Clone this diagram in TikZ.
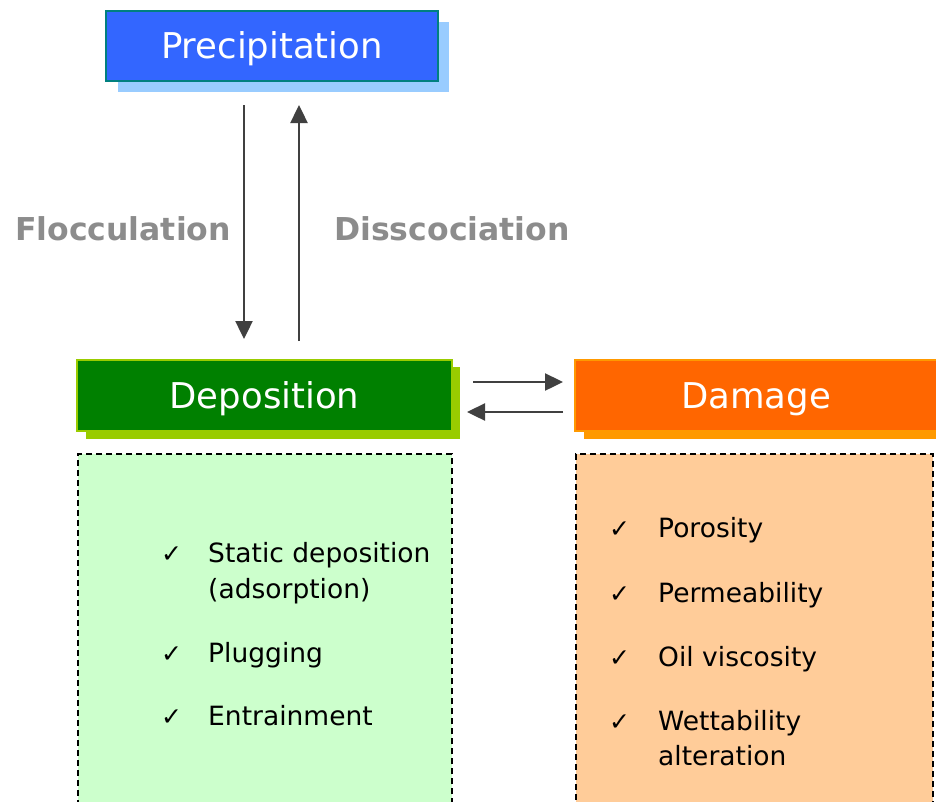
\documentclass[tikz,border=0pt]{standalone}
\usepackage{fontspec}
\setmainfont{DejaVu Sans}
\usetikzlibrary{arrows.meta}
\definecolor{precfill}{HTML}{3366FF}
\definecolor{precline}{HTML}{008080}
\definecolor{precshadow}{HTML}{99CCFF}
\definecolor{depfill}{HTML}{008000}
\definecolor{depline}{HTML}{99CC00}
\definecolor{damfill}{HTML}{FF6600}
\definecolor{damline}{HTML}{FF9900}
\definecolor{greenbg}{HTML}{CCFFCC}
\definecolor{orangebg}{HTML}{FFCC99}
\definecolor{arrowcol}{HTML}{404040}
\definecolor{labelgray}{HTML}{8C8C8C}
\begin{document}
\begin{tikzpicture}[x=1pt,y=-1pt,
  titlebox/.style={rectangle, line width=2pt, text=white, inner sep=0pt,
     font=\fontsize{35.5}{40}\selectfont, text height=25.5pt, text depth=0pt},
  shadowbox/.style={rectangle, inner sep=0pt, draw=none},
  listbox/.style={rectangle, draw=black, line width=1.5pt, dash pattern=on 6pt off 4pt, inner sep=0pt},
  flowarrow/.style={draw=arrowcol, line width=2.4pt, -{Triangle[length=18pt,width=17pt]}},
  sidelabel/.style={anchor=base, text=labelgray, font=\fontsize{31.5}{36}\bfseries\selectfont},
  tick/.style={anchor=base west, inner sep=0pt, font=\fontsize{25}{30}\bfseries\selectfont},
  item/.style={anchor=base west, inner sep=0pt, font=\fontsize{26.5}{36}\selectfont}]
\useasboundingbox (0,0) rectangle (936,801);

% shadows
\node[shadowbox, fill=precshadow, minimum width=331pt, minimum height=70pt] (precsh) at (283,57) {};
\node[shadowbox, fill=depline, minimum width=374pt, minimum height=72pt] (depsh) at (273,403) {};
\node[shadowbox, fill=damline, minimum width=352pt, minimum height=72pt] (damsh) at (760,403) {};

% main boxes
\node[titlebox, fill=precfill, draw=precline, minimum width=332pt, minimum height=70pt] (prec) at (272,46) {Precipitation};
\node[titlebox, fill=depfill, draw=depline, minimum width=375pt, minimum height=71pt] (dep) at (264.5,395.5) {Deposition};
\node[titlebox, fill=damfill, draw=damline, minimum width=362pt, minimum height=71pt] (dam) at (756,395.5) {Damage};

% list boxes
\node[listbox, fill=greenbg, minimum width=374pt, minimum height=356pt] (deplist) at (265,632) {};
\node[listbox, fill=orangebg, minimum width=357pt, minimum height=356pt] (damlist) at (754.5,632) {};

% vertical arrows
\coordinate (fstart) at (244,105);
\coordinate (fend) at (244,339);
\coordinate (dstart) at (299,341);
\coordinate (dend) at (299,105);
\draw[flowarrow] (fstart) -- (fend);
\draw[flowarrow] (dstart) -- (dend);

% horizontal arrows
\coordinate (hr1) at (473,382);
\coordinate (hr2) at (563,382);
\coordinate (hl1) at (563,412);
\coordinate (hl2) at (467,412);
\draw[flowarrow] (hr1) -- (hr2);
\draw[flowarrow] (hl1) -- (hl2);

% labels
\node[sidelabel] (floc) at (123,240) {Flocculation};
\node[sidelabel] (diss) at (452,240) {Disscociation};

% left list
\node[tick] (c1) at (161,562) {✓};
\node[item] (t1) at (208,562) {Static deposition};
\node[item] (t1b) at (208,598) {(adsorption)};
\node[tick] (c2) at (161,662) {✓};
\node[item] (t2) at (208,662) {Plugging};
\node[tick] (c3) at (161,725) {✓};
\node[item] (t3) at (208,725) {Entrainment};

% right list
\node[tick] (r1) at (609,537) {✓};
\node[item] (s1) at (658,537) {Porosity};
\node[tick] (r2) at (609,602) {✓};
\node[item] (s2) at (658,602) {Permeability};
\node[tick] (r3) at (609,666) {✓};
\node[item] (s3) at (658,666) {Oil viscosity};
\node[tick] (r4) at (609,730) {✓};
\node[item] (s4) at (658,730) {Wettability};
\node[item] (s4b) at (658,765) {alteration};
\end{tikzpicture}
\end{document}
